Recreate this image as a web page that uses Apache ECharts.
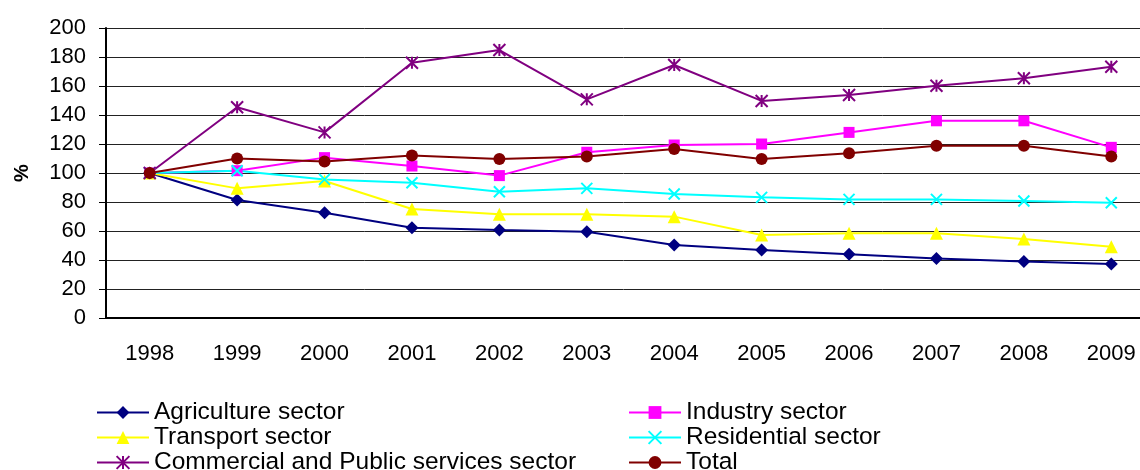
<!DOCTYPE html>
<html>
<head>
<meta charset="utf-8">
<script src="https://cdn.jsdelivr.net/npm/echarts@6/dist/echarts.min.js"></script>
<style>
  html, body { margin: 0; padding: 0; background: #fff; }
  #chart { width: 1140px; height: 470px; }
</style>
</head>
<body>
<div id="chart"></div>
<script>
let years = ['1998', '1999', '2000', '2001', '2002', '2003', '2004', '2005', '2006', '2007', '2008', '2009'];

let agriculture = [100, 81.4, 72.6, 62.3, 60.7, 59.5, 50.3, 46.9, 43.9, 41.1, 38.9, 37.2];
let industry = [100, 101.6, 110.6, 104.8, 98.2, 114.3, 119.3, 120, 128, 136, 136, 117.7];
let transport = [100, 89.4, 94.5, 75.2, 71.5, 71.5, 69.9, 57.2, 58.4, 58.4, 54.5, 49.2];
let residential = [100, 101.6, 95.6, 93.3, 87.1, 89.4, 85.5, 83.2, 81.8, 81.8, 80.7, 79.5];
let commercial = [100, 145.3, 128, 176, 184.8, 150.8, 174.5, 149.7, 153.8, 160.2, 165.3, 173.3];
let total = [100, 110, 108, 112, 109.7, 111.3, 116.6, 109.7, 113.6, 118.8, 118.8, 111.3];

let crossPath = 'path://M0,0L10,10M10,0L0,10';
let starPath = 'path://M0,0L10,10M10,0L0,10M5,0L5,10';

function makeSeries(name, data, color, symbol, size, outline) {
    return {
        name: name,
        type: 'line',
        data: data,
        symbol: symbol,
        symbolSize: size,
        color: color,
        lineStyle: { color: color, width: 2 },
        itemStyle: outline
            ? { color: 'rgba(0,0,0,0)', borderColor: color, borderWidth: 2 }
            : { color: color },
        emphasis: { disabled: true },
        z: 3
    };
}

let textFont = { fontFamily: 'Liberation Sans, Arial', color: '#000' };

function legendBox(left, names) {
    return {
        orient: 'vertical',
        left: left,
        top: 400,
        height: 80,
        padding: 0,
        itemWidth: 52,
        itemHeight: 16,
        itemGap: 0,
        textStyle: Object.assign({ fontSize: 24.5, lineHeight: 23.5 }, textFont),
        data: names
    };
}

let option = {
    animation: false,
    grid: { left: 106, width: 1049, top: 28, height: 290, outerBoundsMode: 'none', containLabel: false },
    legend: [
        legendBox(96, ['Agriculture sector', 'Transport sector', 'Commercial and Public services sector']),
        legendBox(628, ['Industry sector', 'Residential sector', 'Total'])
    ],
    xAxis: {
        type: 'category',
        data: years,
        axisLine: { lineStyle: { color: '#000', width: 2 } },
        axisTick: { length: 6, lineStyle: { color: '#000' } },
        axisLabel: Object.assign({ fontSize: 22, margin: 25 }, textFont)
    },
    yAxis: {
        type: 'value',
        min: 0,
        max: 200,
        interval: 20,
        name: '%',
        nameLocation: 'middle',
        nameRotate: 90,
        nameGap: 74,
        nameTextStyle: Object.assign({ fontSize: 20, fontWeight: 'bold' }, textFont),
        axisLine: { show: true, lineStyle: { color: '#000', width: 2 } },
        axisTick: { show: true, length: 7, lineStyle: { color: '#000' } },
        axisLabel: Object.assign({ fontSize: 22, margin: 20 }, textFont),
        splitLine: { lineStyle: { color: '#222', width: 1 } }
    },
    series: [
        makeSeries('Agriculture sector', agriculture, '#000080', 'diamond', 13, false),
        makeSeries('Industry sector', industry, '#FF00FF', 'rect', 11, false),
        makeSeries('Transport sector', transport, '#FFFF00', 'triangle', 13, false),
        makeSeries('Residential sector', residential, '#00FFFF', crossPath, 11, true),
        makeSeries('Commercial and Public services sector', commercial, '#800080', starPath, 12, true),
        makeSeries('Total', total, '#800000', 'circle', 12, false)
    ]
};

let chart = echarts.init(document.getElementById('chart'));
chart.setOption(option);
</script>
</body>
</html>
